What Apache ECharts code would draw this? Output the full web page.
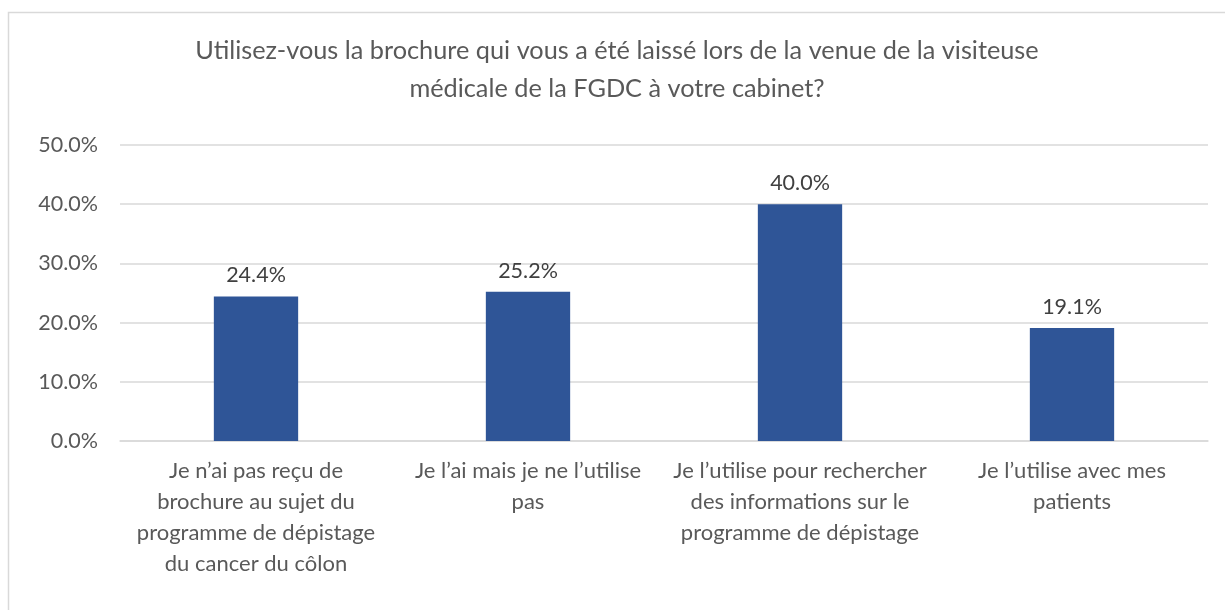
<!DOCTYPE html>
<html>
<head>
<meta charset="utf-8">
<script src="https://cdn.jsdelivr.net/npm/echarts@6/dist/echarts.min.js"></script>
<style>
  html, body { margin: 0; padding: 0; background: #fff; }
  #chart { width: 1225px; height: 610px; }
</style>
</head>
<body>
<div id="chart"></div>
<script>
const titleText = 'Utilisez-vous la brochure qui vous a été laissé lors de la venue de la visiteuse\nmédicale de la FGDC à votre cabinet?';
const categories = [
  'Je n\u2019ai pas reçu de\nbrochure au sujet du\nprogramme de dépistage\ndu cancer du côlon',
  'Je l\u2019ai mais je ne l\u2019utilise\npas',
  'Je l\u2019utilise pour rechercher\ndes informations sur le\nprogramme de dépistage',
  'Je l\u2019utilise avec mes\npatients'
];
const values = [0.244, 0.252, 0.400, 0.191];
const yTicks = [0, 0.1, 0.2, 0.3, 0.4, 0.5];

const FONT = 'Lato, "Liberation Sans", sans-serif';
const pct = v => (v * 100).toFixed(1) + '%';

const chart = echarts.init(document.getElementById('chart'), null, { renderer: 'canvas' });

const option = {
  backgroundColor: '#ffffff',
  animation: false,
  title: {
    text: titleText,
    left: 612,
    top: 27,
    textAlign: 'center',
    textStyle: {
      color: '#595959',
      fontFamily: FONT,
      fontSize: 25.3,
      fontWeight: 'normal',
      lineHeight: 38
    }
  },
  graphic: [{
    type: 'rect',
    shape: { x: 8.5, y: 12.5, width: 1300, height: 700 },
    style: { fill: 'none', stroke: '#D9D9D9', lineWidth: 1.5 },
    silent: true,
    z: -1
  }],
  grid: {
    left: 120,
    right: 17,
    top: 145,
    bottom: 169,
    containLabel: false
  },
  xAxis: {
    type: 'category',
    data: categories,
    axisLine: { show: true, lineStyle: { color: '#D9D9D9', width: 1.5 } },
    axisTick: { show: false },
    axisLabel: {
      interval: 0,
      margin: 14,
      color: '#595959',
      fontFamily: FONT,
      fontSize: 22,
      lineHeight: 31,
      align: 'center'
    }
  },
  yAxis: {
    type: 'value',
    min: yTicks[0],
    max: yTicks[yTicks.length - 1],
    interval: 0.1,
    axisLine: { show: false },
    axisTick: { show: false },
    splitLine: { lineStyle: { color: '#D9D9D9', width: 1.5 } },
    axisLabel: {
      margin: 22,
      color: '#595959',
      fontFamily: FONT,
      fontSize: 21.5,
      formatter: pct
    }
  },
  series: [{
    type: 'bar',
    data: values,
    barWidth: '31%',
    itemStyle: { color: '#2F5597' },
    label: {
      show: true,
      position: 'top',
      distance: 10,
      color: '#404040',
      fontFamily: FONT,
      fontSize: 21.5,
      formatter: p => pct(p.value)
    }
  }]
};

chart.setOption(option);
</script>
</body>
</html>
